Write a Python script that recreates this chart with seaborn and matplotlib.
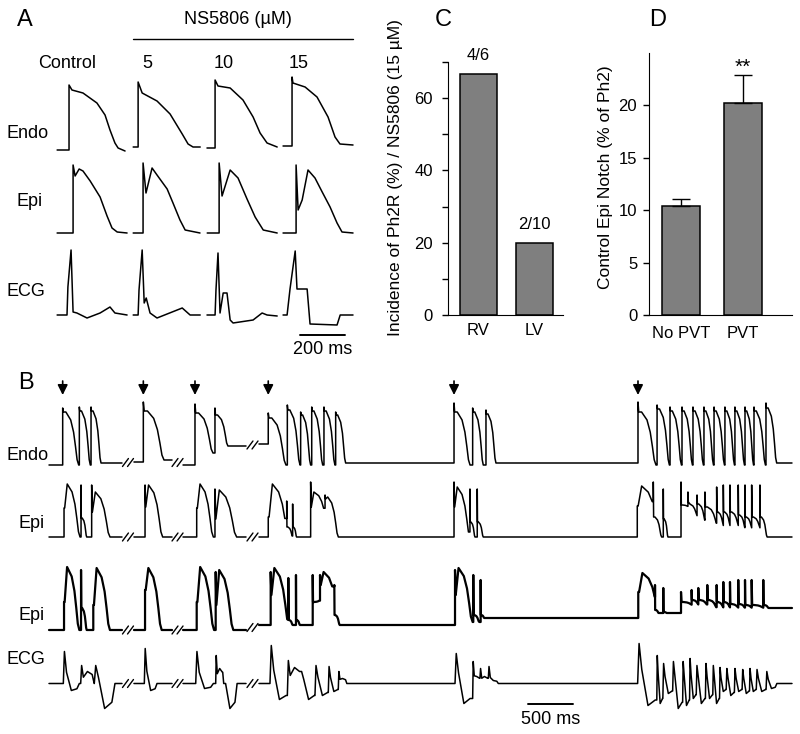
import numpy as np
import pandas as pd
import matplotlib
matplotlib.use("Agg")
import matplotlib.pyplot as plt
import seaborn as sns

sns.set_style("white", {"axes.edgecolor": "black", "text.color": "black",
                        "xtick.color": "black", "ytick.color": "black",
                        "axes.labelcolor": "black"})
plt.rcParams["font.family"] = ["Liberation Sans", "DejaVu Sans"]

# ---------------- panel A: one beat per dose (ms from upstroke, amplitude) ----
a_doses = ["Control", "5", "10", "15"]
endo_a_t = [[-53, 0, 0, 13, 62, 124, 160, 182, 204, 218, 249],
            [-22, 0, 0, 18, 84, 142, 196, 222, 244, 276],
            [-36, 0, 0, 13, 67, 124, 169, 200, 231, 276],
            [-40, 0, 0, 4, 58, 111, 160, 191, 213, 271]]
endo_a_v = [[0, 0, 65, 60, 57, 47, 35, 20, 7, 2, -1],
            [0, 0, 65, 54, 46, 33, 13, 3, 0, 0],
            [0, 0, 68, 62, 60, 48, 31, 15, 5, 1],
            [0, 0, 69, 63, 59, 49, 29, 9, 2, 1]]
epi_a_t = [[-71, 0, 0, 9, 27, 44, 76, 120, 151, 173, 196, 240],
           [-44, 0, 0, 13, 40, 62, 107, 133, 164, 187, 253],
           [-53, 0, 0, 13, 49, 84, 124, 160, 196, 258],
           [-58, 0, 0, 9, 27, 53, 84, 116, 151, 182, 204, 253]]
epi_a_v = [[0, 0, 68, 57, 64, 62, 52, 36, 17, 5, 1, 0],
           [0, 0, 70, 40, 65, 58, 44, 30, 13, 3, 0],
           [0, 0, 70, 37, 63, 55, 34, 16, 3, 0],
           [0, 0, 68, 23, 33, 63, 55, 41, 26, 10, 1, 0]]
ecg_a_t = [[-44, 0, 4, 18, 27, 44, 89, 147, 191, 213, 267],
           [-22, 0, 4, 18, 27, 36, 53, 84, 196, 231, 276],
           [-36, 0, 4, 13, 22, 36, 53, 67, 80, 169, 209, 231, 276],
           [-18, 0, 13, 36, 44, 89, 102, 222, 236, 293]]
ecg_a_v = [[0, 0, 28, 65, 3, 2, -3, 2, 8, 2, 0],
           [0, 0, 25, 65, 12, 17, 2, -3, 7, 0, 0],
           [0, 0, 25, 62, 2, 22, 22, -5, -8, -5, 2, 0, -1],
           [0, 0, 26, 64, 26, 26, -9, -10, 0, 0]]

# ---------------- panel C / D --------------------------------------------------
c_groups = ["RV", "LV"]
c_incidence = [66.7, 20.0]
c_counts = ["4/6", "2/10"]
d_groups = ["No PVT", "PVT"]
d_notch = [10.4, 20.2]
d_sem = [0.7, 2.7]

# ---------------- panel B: beats (onset ms, duration ms, amplitudes) ----------
stim_ms = [252, 1148, 1722, 2536, 4600, 6644]
endo_on = [252, 437, 567, 1148, 1722, 1944, 2536, 2748, 2896, 3019, 3155, 3285,
           4600, 4807, 4955, 6644, 6856, 7000, 7133, 7255, 7377, 7489, 7610,
           7721, 7833, 7933, 8066]
endo_dur = [178, 122, 111, 230, 200, 144, 197, 141, 111, 122, 122, 111, 178,
            118, 111, 200, 137, 127, 116, 116, 106, 116, 106, 106, 95, 127, 119]
endo_spike = [57, 58, 58, 63, 61, 57, 52, 60, 53, 58, 58, 53, 62, 57, 55, 63,
              60, 58, 58, 58, 58, 58, 58, 58, 58, 58, 62]
endo_dome = [53, 54, 54, 54, 52, 50, 47, 55, 50, 54, 54, 50, 53, 53, 51, 53,
             56, 54, 54, 54, 54, 54, 54, 54, 54, 54, 57]
endo_floor = [0, 0, 2, 5, 12, 19, 0, 0, 0, 0, 0, 2, 0, 0, 2, 0, 0, 0, 0, 0, 0,
              0, 0, 0, 0, 0, 2]

epi1_on = [267, 456, 574, 1167, 1741, 1944, 2536, 2741, 2807, 3007, 3167, 4600,
           4777, 4858, 6636, 6814, 6925, 7122, 7199, 7300, 7388, 7518, 7592,
           7666, 7758, 7833, 7907, 7999]
epi1_dur = [178, 63, 204, 196, 185, 241, 230, 67, 44, 180, 148, 178, 56, 67,
            244, 93, 52, 90, 110, 95, 140, 80, 80, 100, 80, 80, 100, 80]
epi1_spike = [29, 52, 52, 52, 29, 48, 20, 36, 33, 55, 42, 55, 48, 48, 31, 55,
              48, 55, 45, 42, 45, 50, 52, 52, 52, 52, 52, 52]
epi1_notch = [29, 19, 25, 30, 29, 18, 20, 10, 10, 30, 38, 30, 15, 15, 31, 20,
              18, 32, 35, 33, 30, 25, 25, 25, 22, 20, 20, 20]
epi1_dome = [53, 19, 45, 52, 53, 47, 53, 10, 10, 45, 40, 50, 15, 15, 51, 20,
             18, 32, 33, 33, 30, 25, 25, 25, 22, 20, 20, 20]
epi1_floor = [0, 0, 0, 0, 0, 0, 0, 0, 0, 20, 0, 0, 0, 0, 10, 0, 0, 30, 20, 15,
              12, 10, 10, 10, 8, 8, 8, 0]

epi2_on = [267, 456, 592, 1167, 1741, 1952, 2563, 2759, 2844, 3030, 3111, 3270,
           4611, 4814, 4896, 6647, 6833, 6925, 7122, 7240, 7314, 7414, 7518,
           7592, 7666, 7758, 7833, 7907, 8036]
epi2_dur = [170, 63, 185, 185, 193, 196, 204, 49, 44, 90, 200, 60, 196, 67, 40,
            230, 40, 40, 130, 80, 105, 110, 80, 80, 100, 80, 80, 140, 60]
epi2_spike = [28, 60, 25, 40, 28, 58, 58, 52, 55, 55, 55, 45, 60, 55, 50, 38,
              45, 42, 38, 40, 42, 45, 45, 48, 48, 50, 50, 50, 50]
epi2_notch = [28, 22, 25, 40, 28, 25, 35, 10, 10, 28, 45, 15, 35, 15, 15, 38,
              20, 18, 28, 30, 30, 30, 28, 28, 26, 26, 25, 25, 25]
epi2_dome = [63, 22, 62, 62, 63, 60, 62, 10, 10, 28, 58, 15, 62, 15, 15, 57,
             20, 18, 28, 30, 30, 30, 28, 28, 26, 26, 25, 25, 25]
epi2_floor = [0, 0, 0, 0, 0, 0, 5, 5, 5, 30, 20, 5, 8, 8, 12, 20, 17, 17, 25,
              25, 25, 22, 22, 22, 22, 22, 22, 22, 22]

ecg_on = [259, 452, 603, 1159, 1730, 1952, 2030, 2555, 2748, 2894, 3055, 3203,
          3314, 4611, 4807, 4888, 4981, 6640, 6853, 6920, 7029, 7140, 7217,
          7291, 7393, 7475, 7550, 7624, 7715, 7801, 7883, 7958, 8067]
ecg_dur = [178, 150, 230, 141, 196, 88, 160, 210, 160, 180, 165, 124, 95, 197,
           90, 100, 111, 230, 75, 122, 124, 86, 83, 114, 92, 84, 83, 102, 96,
           92, 84, 122, 120]
ecg_up = [32, 18, 18, 35, 32, 28, 0, 38, 23, 12, 18, 17, 12, 30, 22, 15, 17,
          40, 28, 20, 22, 22, 25, 18, 20, 18, 16, 15, 15, 14, 15, 14, 12]
ecg_level = [-7, 12, -25, -7, -5, 15, -25, -16, 16, -16, -12, -8, 5, -20, 7, 7,
             3, -22, -20, -10, -25, -22, -15, -20, -15, -20, -8, -12, -8, -10,
             -8, -8, -5]

seg_ms = [(100, 911), (1044, 1467), (1589, 2289), (2433, 8355)]  # recording pieces


def ap_shape(spike, notch, dome, floor):
    u = np.array([0, 0.04, 0.2, 0.5, 0.68, 0.8, 0.9, 1.0])
    frac = np.array([0.85, 0.62, 0.35, 0.1, 0.0])
    v = np.concatenate([[spike, notch, dome], floor + frac * (dome - floor)])
    return u, v


def ecg_shape(up, level):
    u = np.array([0.07, 0.2, 0.5, 0.85, 1.0])
    v = np.array([up, 0.35 * up, level, 0.75 * level, 0])
    return u, v


def build(beats, shape, levels):
    pieces = []
    for (s0, s1), lev in zip(seg_ms, levels):
        t, v = [s0], [lev]
        inside = [b for b in beats if s0 <= b[0] < s1]
        for i, b in enumerate(inside):
            on, dur = b[0], b[1]
            nxt = inside[i + 1][0] if i + 1 < len(inside) else s1
            u, y = shape(*b[2:])
            tt = on + u * dur
            keep = tt < nxt
            t.append(on)
            v.append(v[-1])
            t.extend(tt[keep])
            v.extend(y[keep])
        t.append(s1)
        v.append(v[-1])
        pieces.append((np.array(t), np.array(v)))
    return pieces


W, H = 800, 734
fig = plt.figure(figsize=(W / 100, H / 100), dpi=100)


def add_ax(x0, y0, x1, y1):
    return fig.add_axes([x0 / W, 1 - y1 / H, (x1 - x0) / W, (y1 - y0) / H])


def label(x, y, s, size=13, **kw):
    fig.text(x / W, 1 - y / H, s, fontsize=size, **kw)


# ---- panel A traces
axA = add_ax(40, 60, 360, 360)
axA.set_xlim(0, 1422)
axA.set_ylim(0, 300)
axA.axis("off")
rowsA = [(endo_a_t, endo_a_v, [129, 436, 778, 1120], [210, 213, 212, 214]),
         (epi_a_t, epi_a_v, [147, 458, 796, 1138], [127] * 4),
         (ecg_a_t, ecg_a_v, [120, 436, 778, 1098], [45] * 4)]
for ts, vs, starts, bases in rowsA:
    for t, v, s, b in zip(ts, vs, starts, bases):
        axA.plot(s + np.array(t), b + np.array(v), color="k", lw=1.1)
axA.plot([1156, 1356], [25, 25], color="k", lw=1.4)
axA.text(1256, 10, "200 ms", ha="center", va="center", fontsize=13)

label(25, 20, "A", size=17, ha="center", va="center")
label(238, 20, "NS5806 (µM)", ha="center", va="center")
fig.add_artist(plt.Line2D([133 / W, 353 / W], [1 - 39 / H] * 2, color="k", lw=1))
label(38, 63, a_doses[0], ha="left", va="center")
for s, x in zip(a_doses[1:], [142, 214, 289]):
    label(x, 63, s, ha="left", va="center")
label(7, 133, "Endo", va="center")
label(17, 202, "Epi", va="center")
label(7, 292, "ECG", va="center")

# ---- panel B traces
axB = add_ax(40, 375, 800, 734)
axB.set_xlim(0, 8444)
axB.set_ylim(0, 359)
axB.axis("off")
endo_beats = list(zip(endo_on, endo_dur, endo_spike, endo_dome, endo_dome, endo_floor))
epi1_beats = list(zip(epi1_on, epi1_dur, epi1_spike, epi1_notch, epi1_dome, epi1_floor))
epi2_beats = list(zip(epi2_on, epi2_dur, epi2_spike, epi2_notch, epi2_dome, epi2_floor))
ecg_beats = list(zip(ecg_on, ecg_dur, ecg_up, ecg_level))
rowsB = [(endo_beats, ap_shape, [0, 3, 0, 21], 269, 1.1),
         (epi1_beats, ap_shape, [0, 0, 0, 0], 197, 1.1),
         (epi2_beats, ap_shape, [0, 0, 0, 5], 104, 1.6),
         (ecg_beats, ecg_shape, [0, 0, 0, 0], 50.5, 1.1)]
for beats, shape, levels, base, lw in rowsB:
    pieces = build(beats, shape, levels)
    for t, v in pieces:
        axB.plot(t, base + v, color="k", lw=lw)
    for i in range(len(pieces) - 1):
        bx = (seg_ms[i][1] + seg_ms[i + 1][0]) / 2
        by = base + (pieces[i][1][-1] + pieces[i + 1][1][0]) / 2
        for off in (-28, 28):
            axB.plot([bx + off - 33, bx + off + 33], [by - 4, by + 4], color="k", lw=1)

for t in stim_ms:
    axB.annotate("", xy=(t, 339), xytext=(t, 353),
                 arrowprops=dict(arrowstyle="-|>,head_length=0.6,head_width=0.3",
                                 color="k", lw=1.2, mutation_scale=10,
                                 shrinkA=0, shrinkB=0))
axB.plot([5422, 5922], [30, 30], color="k", lw=1.4)
axB.text(5672, 14, "500 ms", ha="center", va="center", fontsize=13)

label(26, 383, "B", size=17, ha="center", va="center")
label(7, 455, "Endo", va="center")
label(18, 524, "Epi", va="center")
label(18, 615, "Epi", va="center")
label(7, 659, "ECG", va="center")

# ---- panel C
axC = add_ax(448, 62, 563, 315)
sns.barplot(x=c_groups, y=c_incidence, ax=axC, color="#7f7f7f", saturation=1,
            edgecolor="k", linewidth=1.1, width=0.667)
axC.set_xlim(-0.55, 1.52)
axC.set_ylim(0, 70)
axC.set_yticks([0, 20, 40, 60])
axC.set_yticks([10, 30, 50, 70], minor=True)
axC.tick_params(axis="y", which="both", direction="out", length=4, width=1,
                left=True, labelsize=12, pad=7)
axC.tick_params(axis="x", length=0, labelsize=12, pad=6)
for i, s in enumerate(c_counts):
    axC.text(i, c_incidence[i] + 3, s, ha="center", va="bottom", fontsize=12, clip_on=False)
axC.set_ylabel("Incidence of Ph2R (%) / NS5806 (15 µM)", fontsize=12.5)
axC.yaxis.set_label_coords(-0.39, 0.545)
sns.despine(ax=axC)
label(443, 20, "C", size=17, ha="center", va="center")

# ---- panel D
axD = add_ax(649, 53, 792, 315)
sns.barplot(x=d_groups, y=d_notch, ax=axD, color="#7f7f7f", saturation=1,
            edgecolor="k", linewidth=1.1, width=0.613)
axD.errorbar([0, 1], d_notch, yerr=[[0, 0], d_sem], fmt="none", ecolor="k",
             elinewidth=1, capsize=6.8, capthick=1)
axD.set_xlim(-0.516, 1.79)
axD.set_ylim(0, 25)
axD.set_yticks([0, 5, 10, 15, 20])
axD.tick_params(axis="y", direction="out", length=4, width=1, left=True,
                labelsize=12, pad=4.5)
axD.tick_params(axis="x", length=0, labelsize=12, pad=8)
axD.text(1, d_notch[1] + d_sem[1] + 0.7, "**", ha="center", va="center", fontsize=15)
axD.set_ylabel("Control Epi Notch (% of Ph2)", fontsize=12.5)
axD.yaxis.set_label_coords(-0.252, 0.527)
sns.despine(ax=axD)
label(658, 20, "D", size=17, ha="center", va="center")

fig.savefig("out.png", dpi=100)
